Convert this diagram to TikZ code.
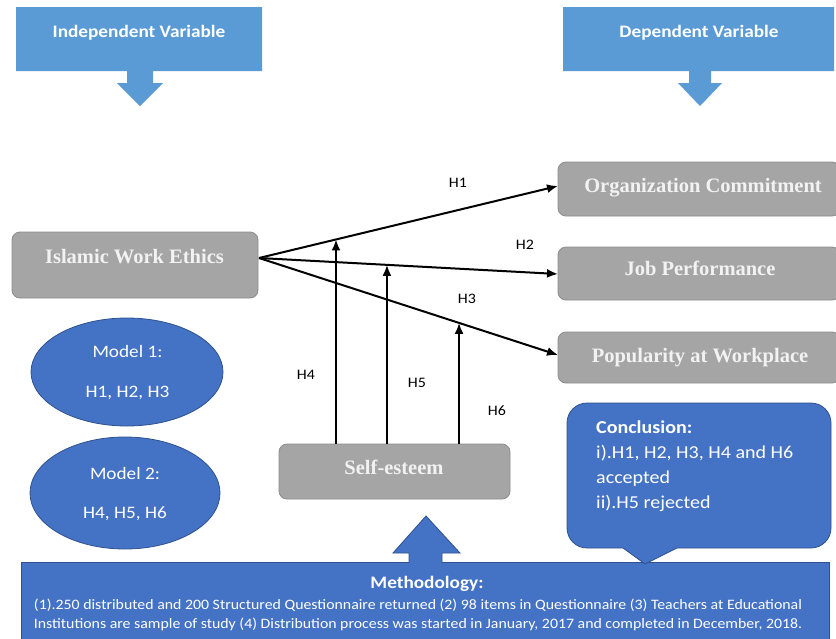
\documentclass[tikz,border=0pt]{standalone}
\usepackage{fontspec}
\setmainfont{Carlito}[FakeStretch=1.1]
\newfontfamily\tnr{Liberation Serif}
\usetikzlibrary{arrows.meta,calc,shapes.geometric}
\definecolor{lblue}{RGB}{91,155,213}
\definecolor{mblue}{RGB}{68,114,196}
\definecolor{dblue}{RGB}{47,82,143}
\definecolor{gfill}{RGB}{165,165,165}
\definecolor{gline}{RGB}{140,140,140}
\definecolor{gtext}{RGB}{242,242,242}
\tikzset{
  toptxt/.style={text=white, font=\fontsize{17.5}{20}\selectfont\bfseries, anchor=base, inner sep=0},
  gbox/.style={rectangle, rounded corners=8pt, fill=gfill, draw=gline, line width=0.8pt, inner sep=0},
  gtxt/.style={text=gtext, font=\tnr\fontsize{20.5}{24}\selectfont\bfseries, anchor=base, inner sep=0},
  hlbl/.style={text=black, font=\fontsize{14.5}{16}\selectfont, anchor=base, inner sep=0},
  bshape/.style={fill=mblue, draw=dblue, line width=0.8pt},
  wtxt/.style={text=white, font=\fontsize{17.5}{20}\selectfont, anchor=base, inner sep=0},
  ctxt/.style={text=white, font=\fontsize{18.2}{20}\selectfont, anchor=base west, inner sep=0},
  conn/.style={draw=black, line width=2pt, -{Latex[length=11pt,width=9pt]}},
}
\begin{document}
\begin{tikzpicture}[x=1pt,y=-1pt]
\clip (0,0) rectangle (836,638);
\fill[white] (0,0) rectangle (836,638);
% top callout arrows
\fill[lblue] (16,7) -- (262,7) -- (262,71) -- (153,71) -- (153,83) -- (163,83) -- (140,106) -- (117,83) -- (127,83) -- (127,71) -- (16,71) -- cycle;
\node[toptxt] (iv) at (139,37) {Independent Variable};
\fill[lblue] (563,7) -- (834,7) -- (834,71) -- (711,71) -- (711,83) -- (722,83) -- (700,106) -- (678,83) -- (689,83) -- (689,71) -- (563,71) -- cycle;
\node[toptxt] (dv) at (699,37) {Dependent Variable};
% grey boxes
\node[gbox, minimum width=246pt, minimum height=66pt] (iwe) at (135,265) {};
\node[gtxt] (iwet) at (134.5,263) {Islamic Work Ethics};
\node[gbox, minimum width=282pt, minimum height=54pt] (oc) at (699,189) {};
\node[gtxt] (oct) at (703,192) {Organization Commitment};
\node[gbox, minimum width=282pt, minimum height=53pt] (jp) at (699,273.5) {};
\node[gtxt] (jpt) at (700,275) {Job Performance};
\node[gbox, minimum width=282pt, minimum height=51pt] (pw) at (699,357.5) {};
\node[gtxt] (pwt) at (700,362) {Popularity at Workplace};
\node[gbox, minimum width=231pt, minimum height=55pt] (se) at (394.5,471.5) {};
\node[gtxt] (set) at (394,474) {Self-esteem};
% connectors
\coordinate (src) at (259,258);
\coordinate (e1) at (558,186);
\coordinate (e2) at (558,274);
\coordinate (e3) at (558,355);
\draw[conn] (src) -- (e1);
\draw[conn] (src) -- (e2);
\draw[conn] (src) -- (e3);
\path (src) -- (e1) coordinate[pos=0.2575] (m1);
\path (src) -- (e2) coordinate[pos=0.428] (m2);
\path (src) -- (e3) coordinate[pos=0.669] (m3);
\draw[conn] (se.north -| m1) -- (m1);
\draw[conn] (se.north -| m2) -- (m2);
\draw[conn] (se.north -| m3) -- (m3);
\node[hlbl] (h1) at (458,187) {H1};
\node[hlbl] (h2) at (525,249) {H2};
\node[hlbl] (h3) at (467,303) {H3};
\node[hlbl] (h4) at (306,379) {H4};
\node[hlbl] (h5) at (417,387) {H5};
\node[hlbl] (h6) at (497,415) {H6};
% model ellipses
\node[ellipse, bshape, minimum width=192pt, minimum height=108pt, inner sep=0] (mo1) at (127,372) {};
\node[wtxt] (mo1a) at (127.5,357) {Model 1:};
\node[wtxt] (mo1b) at (127.5,397) {H1, H2, H3};
\node[ellipse, bshape, minimum width=190pt, minimum height=112pt, inner sep=0] (mo2) at (125,493) {};
\node[wtxt] (mo2a) at (125,479) {Model 2:};
\node[wtxt] (mo2b) at (125,518) {H4, H5, H6};
% methodology box and up arrow
\draw[bshape] (21,562) rectangle (829,650);
\draw[bshape] (409,562.8) -- (409,553) -- (393,553) -- (426,516) -- (460,553) -- (442,553) -- (442,562.8);
\node[wtxt, font=\fontsize{17.5}{20}\selectfont\bfseries] (mt) at (427,588) {Methodology:};
\node[wtxt, font=\fontsize{14.4}{17}\selectfont] (ml1) at (418,609) {(1).250 distributed and 200 Structured Questionnaire returned (2) 98 items in Questionnaire (3) Teachers at Educational};
\node[wtxt, font=\fontsize{14.4}{17}\selectfont] (ml2) at (418,628) {Institutions are sample of study (4) Distribution process was started in January, 2017 and completed in December, 2018.};
% conclusion callout
\draw[bshape] (645,564) -- (623,548) -- (600,548) [rounded corners=20pt] -- (567,548) -- (567,403) -- (831,403) -- (831,548) -- (700,548) [sharp corners] -- (677,548) -- cycle;
\node[ctxt, font=\fontsize{18.2}{20}\selectfont\bfseries] (c0) at (596,433) {Conclusion:};
\node[ctxt] (c1) at (596,458) {i).H1, H2, H3, H4 and H6};
\node[ctxt] (c2) at (596,483) {accepted};
\node[ctxt] (c3) at (596,508) {ii).H5 rejected};
\end{tikzpicture}
\end{document}
